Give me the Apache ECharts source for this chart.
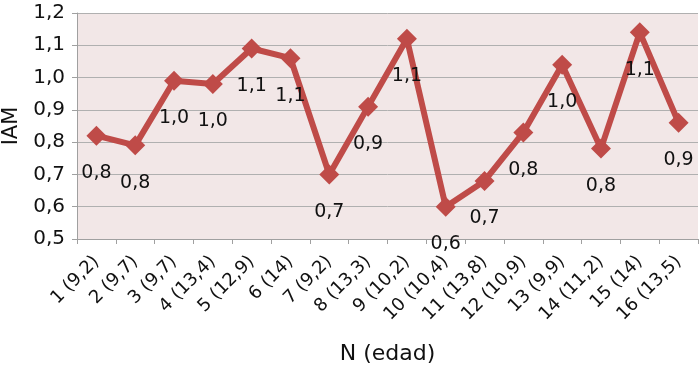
<!DOCTYPE html>
<html>
<head>
<meta charset="utf-8">
<script src="https://cdn.jsdelivr.net/npm/echarts@6/dist/echarts.min.js"></script>
<style>
  html, body { margin: 0; padding: 0; background: #fff; }
  #chart { width: 700px; height: 375px; }
</style>
</head>
<body>
<div id="chart"></div>
<script>
// categories: N (edad)
const categories = ['1 (9,2)', '2 (9,7)', '3 (9,7)', '4 (13,4)', '5 (12,9)', '6 (14)', '7 (9,2)', '8 (13,3)',
  '9 (10,2)', '10 (10,4)', '11 (13,8)', '12 (10,9)', '13 (9,9)', '14 (11,2)', '15 (14)', '16 (13,5)'];
// IAM values
const iamValues = [0.82, 0.79, 0.99, 0.98, 1.09, 1.06, 0.70, 0.91, 1.12, 0.60, 0.68, 0.83, 1.04, 0.78, 1.14, 0.86];
const yTicks = { min: 0.5, max: 1.2, interval: 0.1 };

const fmt = v => v.toFixed(1).replace('.', ',');
const font = 'DejaVu Sans';

const chart = echarts.init(document.getElementById('chart'));
chart.setOption({
    animation: false,
    grid: {
        left: 77, right: 2, top: 13, bottom: 136,
        outerBoundsMode: 'none',
        containLabel: false,
        show: true, backgroundColor: '#f2e7e7', borderWidth: 0
    },
    xAxis: {
        type: 'category',
        data: categories,
        boundaryGap: true,
        name: 'N (edad)',
        nameLocation: 'middle',
        nameGap: 104,
        nameMoveOverlap: false,
        nameTextStyle: { fontFamily: font, fontSize: 22, color: '#111' },
        axisLine: { show: true, lineStyle: { color: '#a0a0a0', width: 1 } },
        axisTick: { show: true, length: 5, lineStyle: { color: '#a0a0a0' } },
        axisLabel: { rotate: 45, margin: 20, fontFamily: font, fontSize: 18, color: '#111', interval: 0 }
    },
    yAxis: {
        type: 'value',
        min: yTicks.min, max: yTicks.max, interval: yTicks.interval,
        name: 'IAM',
        nameLocation: 'middle',
        nameGap: 55,
        nameRotate: 90,
        nameMoveOverlap: false,
        nameTextStyle: { fontFamily: font, fontSize: 21, color: '#111' },
        axisLine: { show: true, lineStyle: { color: '#a0a0a0', width: 1 } },
        axisTick: { show: true, length: 5, lineStyle: { color: '#a0a0a0' } },
        splitLine: { show: true, lineStyle: { color: '#b0b0b0', width: 1 } },
        axisLabel: { formatter: fmt, margin: 12, fontFamily: font, fontSize: 20, color: '#111' }
    },
    series: [{
        type: 'line',
        data: iamValues,
        symbol: 'diamond',
        symbolSize: [20, 20],
        lineStyle: { color: '#bf4b48', width: 6 },
        itemStyle: { color: '#bf4b48' },
        label: {
            show: true,
            position: 'bottom',
            distance: 18,
            formatter: p => fmt(p.value),
            fontFamily: font, fontSize: 19, color: '#111'
        }
    }]
});
</script>
</body>
</html>
